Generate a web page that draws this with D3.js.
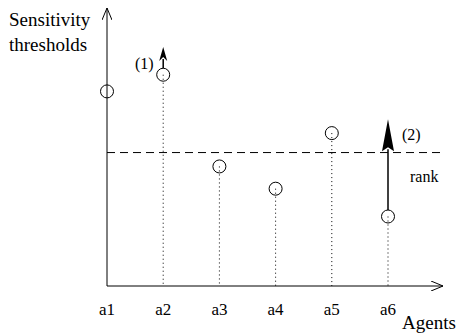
<!DOCTYPE html>
<html>
<head>
<meta charset="utf-8">
<script src="https://cdn.jsdelivr.net/npm/d3@7"></script>
<style>
  svg text { font-family: "Liberation Serif", Tinos, "Nimbus Roman", serif !important; }
</style>
</head>
<body style="margin:0">
<script>
// Data
const agents = ["a1", "a2", "a3", "a4", "a5", "a6"];
const thresholds = [70, 76, 43, 35, 55, 25];
const rankLevel = 48;
// arrows: agent, end value, label
const arrowAgents = ["a2", "a6"];
const arrowTips = [86, 60];
const arrowLabels = ["(1)", "(2)"];

const width = 457;
const height = 334;

const svg = d3.select("body")
  .append("svg")
  .attr("width", width)
  .attr("height", height);

const x0 = 107, y0 = 286;

const x = d3.scalePoint().domain(agents).range([107, 388]);
const y = d3.scaleLinear().domain([0, 100]).range([y0, 8]);

// open arrowhead for the axes
svg.append("defs").append("marker")
  .attr("id", "open")
  .attr("viewBox", "0 0 12 10")
  .attr("refX", 12).attr("refY", 5)
  .attr("markerWidth", 12).attr("markerHeight", 10)
  .attr("markerUnits", "userSpaceOnUse")
  .attr("orient", "auto")
  .append("path")
  .attr("d", "M0,0 L12,5 L0,10")
  .attr("fill", "none")
  .attr("stroke", "#000")
  .attr("stroke-width", 1);

// dashed rank line
svg.append("line")
  .attr("x1", x0).attr("x2", 440)
  .attr("y1", y(rankLevel)).attr("y2", y(rankLevel))
  .attr("stroke", "#000")
  .attr("stroke-dasharray", "8,5");

// dotted drop lines
svg.append("g").selectAll("line")
  .data(agents.slice(1))
  .join("line")
  .attr("x1", d => x(d)).attr("x2", d => x(d))
  .attr("y1", d => y(thresholds[agents.indexOf(d)]))
  .attr("y2", y0)
  .attr("stroke", "#000")
  .attr("stroke-width", 1)
  .attr("stroke-dasharray", "1,3");

// axes
svg.append("line")
  .attr("x1", x0).attr("y1", y0)
  .attr("x2", x0).attr("y2", 8)
  .attr("stroke", "#000")
  .attr("marker-end", "url(#open)");
svg.append("line")
  .attr("x1", x0).attr("y1", y0)
  .attr("x2", 443).attr("y2", y0)
  .attr("stroke", "#000")
  .attr("marker-end", "url(#open)");

// circles
svg.append("g").selectAll("circle")
  .data(agents)
  .join("circle")
  .attr("cx", d => x(d))
  .attr("cy", (d, i) => y(thresholds[i]))
  .attr("r", 6.5)
  .attr("fill", "none")
  .attr("stroke", "#000")
  .attr("stroke-width", 1);

// filled arrows
arrowAgents.forEach((a, i) => {
  const cx = x(a);
  const start = y(thresholds[agents.indexOf(a)]) - 6.5;
  const tip = y(arrowTips[i]);
  const headLen = i === 0 ? 14 : 32;
  const headW = i === 0 ? 4 : 6;
  svg.append("line")
    .attr("x1", cx).attr("x2", cx)
    .attr("y1", start).attr("y2", tip + headLen - 2)
    .attr("stroke", "#000")
    .attr("stroke-width", 1.5);
  svg.append("path")
    .attr("d", `M${cx},${tip} L${cx + headW},${tip + headLen} L${cx},${tip + headLen - 4} L${cx - headW},${tip + headLen} Z`)
    .attr("fill", "#000");
});

// all text: positions, sizes, strings
const texts = [
  { x: 135, y: 69, size: 16, t: arrowLabels[0], anchor: "start" },
  { x: 402, y: 140, size: 16, t: arrowLabels[1], anchor: "start" },
  { x: 410, y: 182, size: 16, t: "rank", anchor: "start" },
  { x: 402, y: 329, size: 19, t: "Agents", anchor: "start" },
  { x: 9, y: 26, size: 19, t: "Sensitivity", anchor: "start" },
  { x: 9, y: 51, size: 19, t: "thresholds", anchor: "start" }
].concat(agents.map(a => ({ x: x(a), y: 315, size: 17, t: a, anchor: "middle" })));

svg.selectAll("text.lbl")
  .data(texts)
  .join("text")
  .attr("class", "lbl")
  .attr("x", d => d.x).attr("y", d => d.y)
  .attr("text-anchor", d => d.anchor)
  .attr("font-family", "Liberation Serif")
  .attr("font-size", d => d.size)
  .text(d => d.t);
</script>
</body>
</html>
